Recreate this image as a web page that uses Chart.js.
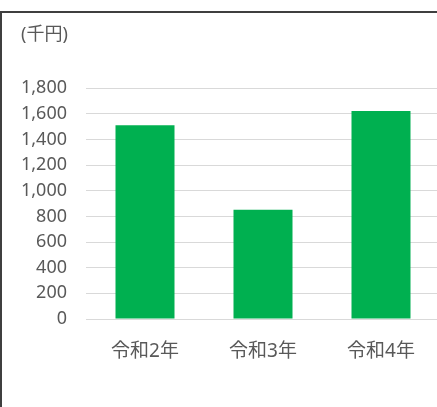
<!DOCTYPE html>
<html>
<head>
<meta charset="utf-8">
<script src="https://cdn.jsdelivr.net/npm/chart.js@4"></script>
<style>
  html, body { margin: 0; padding: 0; background: #fff; overflow: hidden; }
  #frame {
    position: absolute;
    left: 0;
    top: 11px;
    width: 460px;
    height: 420px;
    border-top: 2px solid #3f3f3f;
    border-left: 2px solid #3f3f3f;
  }
  canvas { display: block; }
</style>
</head>
<body>
<div id="frame">
  <canvas id="chart" width="445" height="394"></canvas>
</div>
<script>
// Data
const categories = ['令和2年', '令和3年', '令和4年'];
const amounts = [1512, 852, 1623];
const unitLabel = '(千円)';
const yMax = 1800;
const yStep = 200;

const textColor = '#595959';
const fontFamily = '"Noto Sans", "Noto Sans CJK JP", sans-serif';

const ctx = document.getElementById('chart').getContext('2d');

const chart = new Chart(ctx, {
  type: 'bar',
  data: {
    labels: categories,
    datasets: [{
      data: amounts,
      backgroundColor: '#00B050',
      borderWidth: 0,
      barPercentage: 0.5,
      categoryPercentage: 1.0
    }]
  },
  options: {
    responsive: false,
    animation: false,
    layout: {
      padding: { left: 19, right: 7, top: 0, bottom: 44 }
    },
    plugins: {
      legend: { display: false },
      tooltip: { enabled: false },
      title: {
        display: true,
        text: unitLabel,
        align: 'start',
        color: textColor,
        font: { family: fontFamily, size: 18, weight: 'normal' },
        padding: { top: 11, bottom: 42.7 }
      }
    },
    scales: {
      x: {
        grid: { display: false, drawTicks: false },
        border: { display: true, color: '#d9d9d9', width: 1 },
        ticks: {
          color: textColor,
          padding: 21,
          font: { family: fontFamily, size: 19 }
        },
        afterFit: scale => { scale.height = 44; }
      },
      y: {
        min: 0,
        max: yMax,
        grid: { color: '#d9d9d9', drawTicks: false },
        border: { display: false },
        ticks: {
          stepSize: yStep,
          color: textColor,
          padding: 19,
          font: { family: fontFamily, size: 18 },
          callback: v => v.toLocaleString('en-US')
        },
        afterFit: scale => { scale.width = 65; }
      }
    }
  }
});
</script>
</body>
</html>
